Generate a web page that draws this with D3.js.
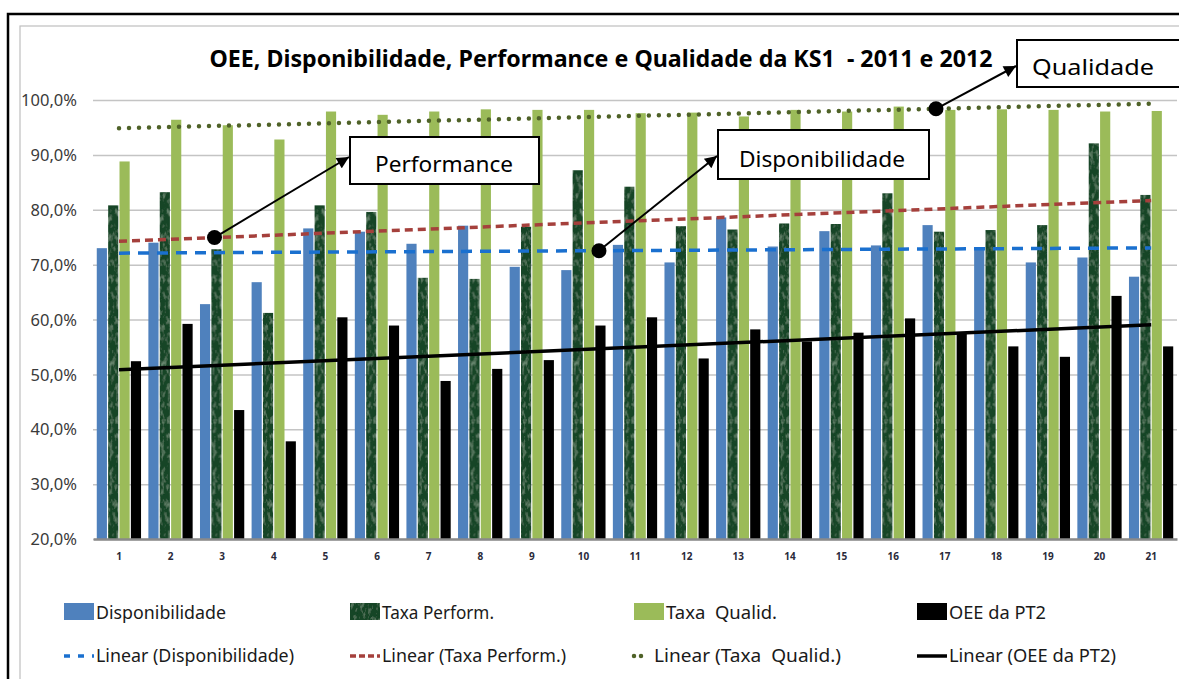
<!DOCTYPE html>
<html><head><meta charset="utf-8">
<script src="https://cdn.jsdelivr.net/npm/d3@7"></script>
<style>body{margin:0;background:#fff}svg{display:block}text{white-space:pre}</style>
</head><body>
<svg id="chart" width="1179" height="679"></svg>
<script>
// ---------- data ----------
const categories = ["1","2","3","4","5","6","7","8","9","10","11","12","13","14","15","16","17","18","19","20","21"];
const disponibilidade = [73.0,74.0,62.8,66.8,76.6,76.0,73.8,77.1,69.6,69.0,73.6,70.4,78.6,73.3,76.1,73.5,77.2,73.1,70.4,71.3,67.8];
const taxaPerform    = [80.8,83.2,72.8,61.2,80.8,79.6,67.6,67.4,76.9,87.2,84.2,77.0,76.4,77.5,77.4,83.0,76.0,76.3,77.2,92.1,82.7];
const taxaQualid     = [88.8,96.4,95.4,92.8,97.9,97.3,97.9,98.3,98.2,98.2,97.6,97.7,97.0,98.2,97.9,98.8,98.2,98.3,98.2,97.9,98.0];
const oeePT2         = [52.4,59.2,43.5,37.8,60.4,58.9,48.8,51.0,52.6,58.9,60.4,52.9,58.2,56.0,57.6,60.2,57.4,55.1,53.2,64.3,55.1];
const seriesNames = ["Disponibilidade","Taxa Perform.","Taxa  Qualid.","OEE da PT2"];
const trendNames  = ["Linear (Disponibilidade)","Linear (Taxa Perform.)","Linear (Taxa  Qualid.)","Linear (OEE da PT2)"];
const yTicks = [0.2,0.3,0.4,0.5,0.6,0.7,0.8,0.9,1.0];
const title = "OEE, Disponibilidade, Performance e Qualidade da KS1  - 2011 e 2012";
// annotations: label, series index, position along category index
const annotations = [
  {label:"Performance", series:1, at:2.85},
  {label:"Disponibilidade", series:0, at:10.3},
  {label:"Qualidade", series:2, at:16.83}
];

// ---------- styles ----------
const seriesData = [disponibilidade, taxaPerform, taxaQualid, oeePT2];
const barFills = ["#4F81BD","url(#texGreen)","#9BBB59","#000000"];
const trendStyle = [
  {stroke:"#1A70CF", width:3.5, dash:"11,8", cap:"butt"},
  {stroke:"#A5403C", width:3.5, dash:"8,5", cap:"butt"},
  {stroke:"#4F6228", width:4.5, dash:"0,10", cap:"round"},
  {stroke:"#000000", width:3.5, dash:null, cap:"butt"}
];
const boxes = [
  {x:350, y:137, w:189, h:47, tx:375, ty:172, tw:138, tipX:349, tipY:157},
  {x:718, y:130, w:211, h:49, tx:739, ty:167, tw:166, tipX:717, tipY:156},
  {x:1017, y:40, w:175, h:47, tx:1032, ty:75, tw:122, tipX:1016, tipY:66}
];

const svg = d3.select("#chart");
const defs = svg.append("defs");

// textured dark green fill
const pat = defs.append("pattern").attr("id","texGreen").attr("patternUnits","userSpaceOnUse")
  .attr("width",1179).attr("height",679);
const f = defs.append("filter").attr("id","marble").attr("x",0).attr("y",0).attr("width",1).attr("height",1);
f.append("feTurbulence").attr("type","fractalNoise").attr("baseFrequency","0.3 0.12").attr("numOctaves",3).attr("seed",11).attr("result","n");
f.append("feColorMatrix").attr("in","n").attr("type","matrix")
  .attr("values","0 0 0 0 0.27  0 0 0 0 0.43  0 0 0 0 0.30  1.5 0 0 0 -0.74").attr("result","c");
f.append("feComposite").attr("in","c").attr("in2","SourceGraphic").attr("operator","in").attr("result","cc");
const fm = f.append("feMerge");
fm.append("feMergeNode").attr("in","SourceGraphic");
fm.append("feMergeNode").attr("in","cc");
pat.append("rect").attr("width",1179).attr("height",679).attr("fill","#184425").attr("filter","url(#marble)");

// arrow marker
defs.append("marker").attr("id","arr").attr("viewBox","0 0 10 10").attr("refX",10).attr("refY",5)
  .attr("markerWidth",7).attr("markerHeight",6).attr("markerUnits","strokeWidth").attr("orient","auto")
  .append("path").attr("d","M0,0 L10,5 L0,10 z").attr("fill","#000");

// frame
svg.append("rect").attr("x",8).attr("y",14).attr("width",1200).attr("height",700)
  .attr("fill","none").attr("stroke","#000").attr("stroke-width",2.5);
svg.append("rect").attr("x",20).attr("y",26).attr("width",1200).attr("height",700)
  .attr("fill","none").attr("stroke","#BFBFBF").attr("stroke-width",1.2);

// scales
const x0 = d3.scaleBand().domain(categories).range([93.2, 1177]).paddingInner(0).paddingOuter(0);
const x1 = d3.scaleBand().domain(d3.range(4)).range([0, x0.bandwidth()]).paddingInner(0).paddingOuter(0.27);
const y = d3.scaleLinear().domain([0.2, 1.0]).range([539, 100]);
const xIdx = d3.scaleLinear().domain([1,21]).range([x0("1")+x0.bandwidth()/2, x0("21")+x0.bandwidth()/2]);

const loc = d3.formatLocale({decimal:",", thousands:".", grouping:[3], currency:["",""]});
const pct = loc.format(".1%");

// gridlines + y axis
const yAxis = d3.axisLeft(y).tickValues(yTicks).tickFormat(pct).tickSize(-(1177-93)).tickPadding(16);
const gy = svg.append("g").attr("transform","translate(93,0)").call(yAxis);
gy.select(".domain").remove();
gy.selectAll(".tick line").attr("stroke","#C4C4C4").attr("stroke-width",1.5);
gy.selectAll(".tick text").attr("font-family","Noto Sans, sans-serif").attr("font-size",16.5)
  .attr("fill","#3A3A3A").attr("dy","0.34em");

// bars
const groups = svg.append("g").selectAll("g").data(categories).join("g")
  .attr("transform", d => `translate(${x0(d)},0)`);
groups.selectAll("rect").data((c,i) => seriesData.map((s,k) => ({k, v:s[i]/100})))
  .join("rect")
  .attr("x", d => x1(d.k)+0.5)
  .attr("width", x1.bandwidth()-1.2)
  .attr("y", d => y(d.v))
  .attr("height", d => y(0.2) - y(d.v))
  .attr("fill", d => barFills[d.k]);

// x axis
const xAxis = d3.axisBottom(x0).tickSize(0).tickPadding(14);
const gx = svg.append("g").attr("transform",`translate(0,${y(0.2)})`).call(xAxis);
gx.select(".domain").attr("stroke","#8A8A8A").attr("stroke-width",2.5);
gx.selectAll(".tick text").attr("font-family","Noto Sans, sans-serif").attr("font-size",10)
  .attr("font-weight","bold").attr("fill","#2A2A3A");

// trendlines (least squares over category index)
function regress(vals){
  const n = vals.length, xs = d3.range(1,n+1);
  const mx = d3.mean(xs), my = d3.mean(vals);
  const b = d3.sum(xs, (xv,i)=> (xv-mx)*(vals[i]-my)) / d3.sum(xs, xv=>(xv-mx)*(xv-mx));
  return t => (my + b*(t-mx))/100;
}
const trends = seriesData.map(regress);
const line = d3.line().x(d=>xIdx(d[0])).y(d=>y(d[1]));
trends.forEach((fn,k)=>{
  const st = trendStyle[k];
  svg.append("path").attr("d", line([[1,fn(1)],[21,fn(21)]]))
    .attr("fill","none").attr("stroke",st.stroke).attr("stroke-width",st.width)
    .attr("stroke-dasharray",st.dash).attr("stroke-linecap",st.cap);
});

// title
svg.append("text").attr("x",601).attr("y",67).attr("text-anchor","middle")
  .attr("font-family","Noto Sans, sans-serif").attr("font-weight","bold").attr("font-size",24)
  .attr("textLength",783).attr("lengthAdjust","spacingAndGlyphs").attr("fill","#000").text(title);

// annotations
annotations.forEach((a,i)=>{
  const b = boxes[i];
  const px = xIdx(a.at), py = y(trends[a.series](a.at));
  svg.append("line").attr("x1",px).attr("y1",py).attr("x2",b.tipX).attr("y2",b.tipY)
    .attr("stroke","#000").attr("stroke-width",2).attr("marker-end","url(#arr)");
  svg.append("circle").attr("cx",px).attr("cy",py).attr("r",7.5).attr("fill","#000");
  svg.append("rect").attr("x",b.x).attr("y",b.y).attr("width",b.w).attr("height",b.h)
    .attr("fill","#fff").attr("stroke","#000").attr("stroke-width",2);
  svg.append("text").attr("x",b.tx).attr("y",b.ty).attr("font-family","Noto Sans, sans-serif")
    .attr("font-size",22).attr("textLength",b.tw).attr("lengthAdjust","spacingAndGlyphs")
    .attr("fill","#000").text(a.label);
});

// legend
const legX = [64, 350, 634, 917];
const legTW1 = [130, 112, 111, 97];
const legTW2 = [198, 184, 187, 167];
const lg = svg.append("g").attr("font-family","Noto Sans, sans-serif").attr("font-size",18).attr("fill","#1a1a1a");
seriesNames.forEach((nm,k)=>{
  lg.append("rect").attr("x",legX[k]).attr("y",603).attr("width",30).attr("height",17).attr("fill",barFills[k]);
  lg.append("text").attr("x",legX[k]+32).attr("y",619).attr("textLength",legTW1[k])
    .attr("lengthAdjust","spacingAndGlyphs").text(nm);
});
trendNames.forEach((nm,k)=>{
  const st = trendStyle[k];
  let x0l = legX[k], x1l = legX[k]+30;
  if(k===2){ x0l = legX[k]-2; x1l = legX[k]+14; }
  lg.append("line").attr("x1",x0l+(st.cap==="round"?2:0)).attr("x2",x1l).attr("y1",656).attr("y2",656)
    .attr("stroke",st.stroke).attr("stroke-width",st.width)
    .attr("stroke-dasharray", k===0 ? "6,8" : k===1 ? "6,3" : k===2 ? "0,7" : null)
    .attr("stroke-linecap",st.cap);
  lg.append("text").attr("x", k===2 ? legX[k]+20 : legX[k]+32).attr("y",662).attr("textLength",legTW2[k])
    .attr("lengthAdjust","spacingAndGlyphs").text(nm);
});
</script>
</body></html>
